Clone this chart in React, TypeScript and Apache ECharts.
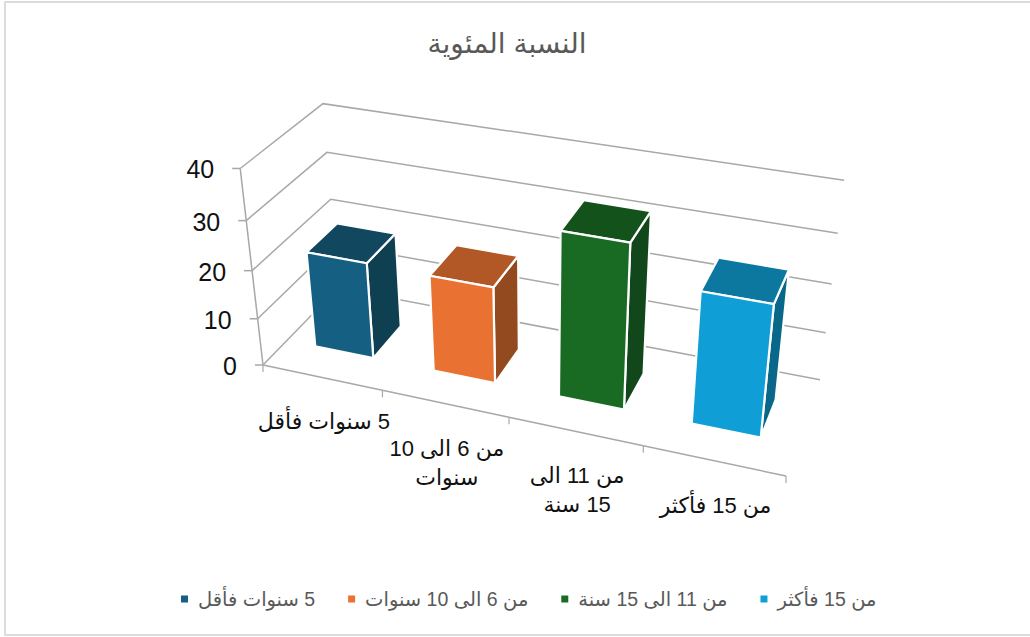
import React, { useEffect, useRef } from "react";
import * as echarts from "echarts";

const titleText = "النسبة المئوية";
const categories = ["\u200f5 سنوات فأقل", "من 6 الى 10 سنوات", "من 11 الى 15 سنة", "من 15 فأكثر"];
const categoryTickLabels = ["\u200f5 سنوات فأقل", "من 6 الى 10\nسنوات", "من 11 الى\n\u200f15 سنة", "من 15 فأكثر"];
const percentValues = [20.2, 20, 33.3, 26.5];
const valueTicks = [0, 10, 20, 30, 40];
const frontColors = ["#156082", "#E97132", "#196B24", "#0F9ED5"];
const topColors = ["#11485F", "#B25726", "#14521B", "#0C78A0"];
const sideColors = ["#0E4052", "#934A1F", "#11471A", "#09688A"];

const FONT = '"Liberation Sans", Arial, "DejaVu Sans", sans-serif';
const GRID = { left: 263, top: 169, width: 523, height: 196 };
const LINE = "#a8a8a8";

// Perspective map of the unit box (u along categories, v into depth, h up) to the screen.
const project = (u: number, v: number, h: number): [number, number] => {
  const d = 1 - 0.112 * u + 0.093 * v - 0.077 * h;
  return [
    (263 + 435 * u + 106.4 * v - 41.3 * h) / d,
    (365 + 57.7 * u - 50.2 * v - 209.5 * h) / d,
  ];
};

const unit = (api: any, params: any, cat: number, val: number, dx = 0): [number, number] => {
  const c = api.coord([cat, val]);
  const g = params.coordSys;
  return [(c[0] + dx - g.x) / g.width, (g.y + g.height - c[1]) / g.height];
};

const lineEl = (a: number[], b: number[], w = 1.5) => ({
  type: "line",
  silent: true,
  shape: { x1: a[0], y1: a[1], x2: b[0], y2: b[1] },
  style: { stroke: LINE, lineWidth: w },
});

const renderValueGrid = (params: any, api: any) => {
  const tick = api.value(1);
  const [, h] = unit(api, params, 0, tick);
  const front = project(0, 0, h);
  const back = project(0, 1, h);
  const right = project(1, 1, h);
  const children: any[] = [
    { type: "polyline", silent: true, shape: { points: [front, back, right] }, style: { stroke: LINE, lineWidth: 1.5, fill: "none" } },
    lineEl([front[0] - 8, front[1]], front),
    {
      type: "text",
      silent: true,
      style: {
        text: String(tick),
        x: front[0] - 26,
        y: front[1] + 1,
        align: "right",
        verticalAlign: "middle",
        fill: "#111111",
        font: `25px ${FONT}`,
      },
    },
  ];
  if (tick < valueTicks[valueTicks.length - 1]) {
    const [, h2] = unit(api, params, 0, tick + 10);
    children.push(lineEl(front, project(0, 0, h2)));
  }
  return { type: "group", children };
};

const renderCategoryAxis = (params: any, api: any) => {
  const i = params.dataIndex;
  const band = api.size([1, 0])[0];
  const [uc] = unit(api, params, i, 0);
  const [ul] = unit(api, params, i, 0, -band / 2);
  const [ur] = unit(api, params, i, 0, band / 2);
  const a = project(ul, 0, 0);
  const b = project(ur, 0, 0);
  const c = project(uc, 0, 0);
  const children: any[] = [
    lineEl(a, b),
    lineEl(b, [b[0], b[1] + 7], 1.2),
    {
      type: "text",
      silent: true,
      style: {
        text: categoryTickLabels[i],
        x: c[0] + 2,
        y: c[1] + 30,
        align: "center",
        verticalAlign: "top",
        lineHeight: 29,
        fill: "#111111",
        font: `22px ${FONT}`,
      },
    },
  ];
  if (i === 0) children.push(lineEl(a, [a[0], a[1] + 7], 1.2));
  return { type: "group", children };
};

const makeBarRenderer = (idx: number) => (params: any, api: any) => {
  const band = api.size([1, 0])[0];
  const [u0, h] = unit(api, params, idx, api.value(1), -0.252 * band);
  const [u1] = unit(api, params, idx, 0, 0.245 * band);
  const v0 = 0.3;
  const v1 = 0.7;
  const face = (pts: number[][], fill: string) => ({
    type: "polygon",
    silent: true,
    shape: { points: pts },
    style: { fill, stroke: "#ffffff", lineWidth: 2.2, lineJoin: "round" },
  });
  return {
    type: "group",
    children: [
      face([project(u1, v0, 0), project(u1, v1, 0), project(u1, v1, h), project(u1, v0, h)], sideColors[idx]),
      face([project(u0, v0, h), project(u1, v0, h), project(u1, v1, h), project(u0, v1, h)], topColors[idx]),
      face([project(u0, v0, 0), project(u1, v0, 0), project(u1, v0, h), project(u0, v0, h)], frontColors[idx]),
    ],
  };
};

export default function App() {
  const ref = useRef<HTMLDivElement>(null);
  useEffect(() => {
    document.body.style.margin = "0";
    const chart = echarts.init(ref.current!, undefined, { renderer: "svg" });
    chart.setOption({
      animation: false,
      backgroundColor: "#ffffff",
      textStyle: { fontFamily: FONT },
      title: {
        text: titleText,
        left: 502,
        top: 24,
        textAlign: "center",
        textStyle: { color: "#595959", fontSize: 28, fontWeight: "normal", fontFamily: FONT },
      },
      graphic: [
        {
          type: "rect",
          silent: true,
          z: -1,
          shape: { x: 5, y: 2, width: 1040, height: 633 },
          style: { fill: "none", stroke: "#dcdcdc", lineWidth: 2 },
        },
      ],
      legend: {
        data: categories,
        left: 176,
        top: 584,
        icon: "rect",
        itemWidth: 7,
        itemHeight: 7,
        itemGap: 33,
        textStyle: { color: "#595959", fontSize: 19.5, fontFamily: FONT, padding: [0, 0, 0, 5] },
      },
      grid: { left: GRID.left, top: GRID.top, width: GRID.width, height: GRID.height },
      xAxis: { type: "category", data: categories, show: false },
      yAxis: { type: "value", min: 0, max: 40, interval: 10, show: false },
      series: [
        {
          type: "custom",
          name: "valueGrid",
          z: 1,
          data: valueTicks.map((t) => [0, t]),
          renderItem: renderValueGrid,
        },
        {
          type: "custom",
          name: "categoryAxis",
          z: 1,
          data: categories.map((_, i) => [i, 0]),
          renderItem: renderCategoryAxis,
        },
        ...categories.map((name, i) => ({
          type: "custom",
          name,
          z: 2 + i,
          itemStyle: { color: frontColors[i] },
          data: [[i, percentValues[i]]],
          renderItem: makeBarRenderer(i),
        })),
      ],
    });
    return () => chart.dispose();
  }, []);
  return <div ref={ref} style={{ width: 1030, height: 637 }} />;
}
